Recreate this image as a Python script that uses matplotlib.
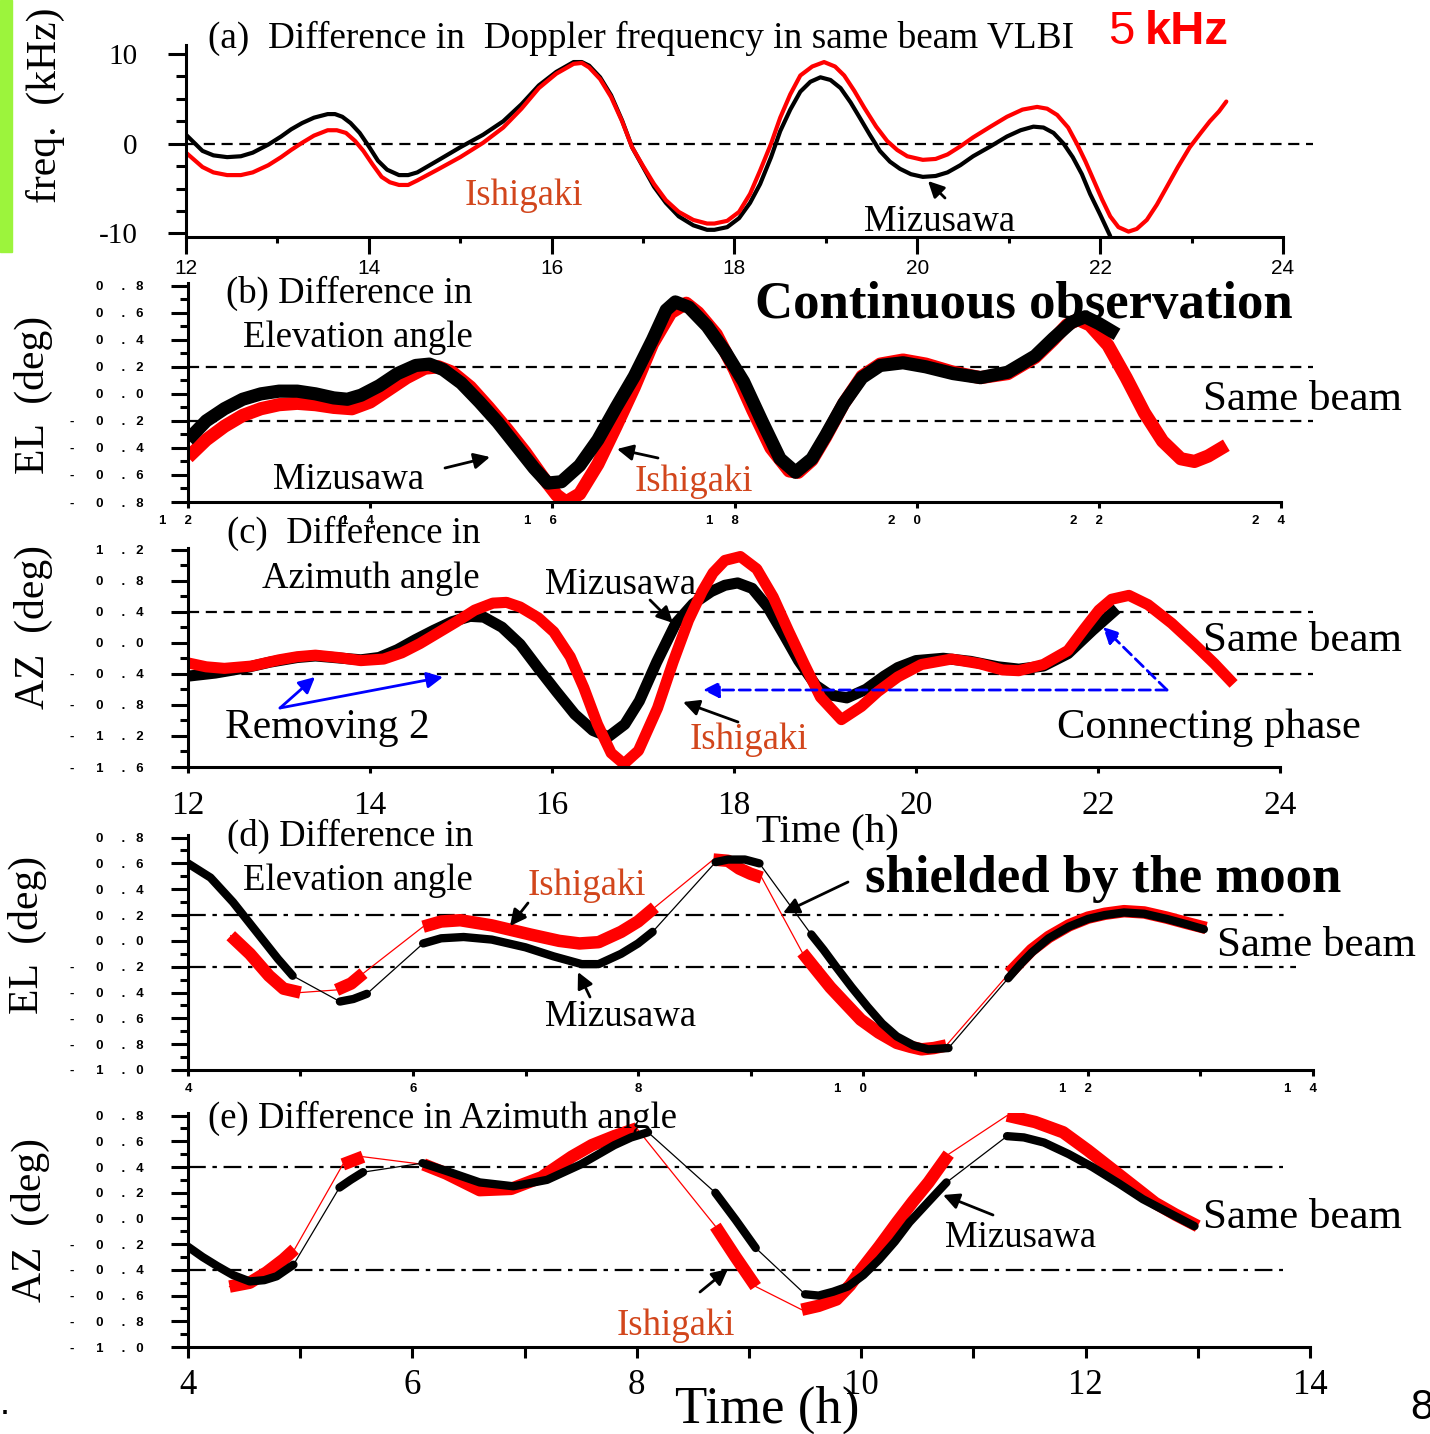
import matplotlib
matplotlib.use('Agg')
import matplotlib.pyplot as plt
import matplotlib.transforms as mtransforms
from matplotlib.ticker import MultipleLocator

# ---------------- data ----------------
# (a) Doppler frequency difference (kHz), 12-24 h
a_miz_t = [12.0, 12.18, 12.3, 12.45, 12.6, 12.73, 12.9, 13.04, 13.15, 13.27, 13.4, 13.55, 13.63, 13.71,
           13.8, 13.9, 14.0, 14.1, 14.2, 14.33, 14.43, 14.53, 14.75, 15.0, 15.25, 15.47, 15.67, 15.86,
           16.05, 16.24, 16.33, 16.41, 16.53, 16.65, 16.77, 16.88, 17.0, 17.12, 17.25, 17.39, 17.55,
           17.7, 17.78, 17.92, 18.05, 18.17, 18.28, 18.4, 18.5, 18.61, 18.72, 18.83, 18.94, 19.05,
           19.16, 19.27, 19.37, 19.48, 19.59, 19.7, 19.81, 19.93, 20.06, 20.2, 20.33, 20.47, 20.61,
           20.8, 20.98, 21.13, 21.27, 21.38, 21.49, 21.6, 21.7, 21.8, 21.89, 22.0, 22.11]
a_miz_f = [1.0, -0.8, -1.3, -1.5, -1.4, -1.0, -0.1, 0.8, 1.6, 2.3, 2.9, 3.3, 3.3, 3.0,
           2.3, 1.2, -0.3, -1.9, -2.9, -3.5, -3.5, -3.2, -1.9, -0.4, 1.0, 2.5, 4.4, 6.5,
           8.0, 9.1, 9.1, 8.7, 7.4, 5.4, 2.6, -0.4, -2.6, -4.8, -6.6, -8.1, -9.1,
           -9.6, -9.6, -9.3, -8.3, -6.6, -4.5, -1.5, 1.4, 3.8, 5.8, 6.9, 7.4, 7.1,
           6.2, 4.6, 2.9, 1.0, -0.8, -2.0, -2.8, -3.4, -3.7, -3.6, -3.2, -2.4, -1.4,
           -0.3, 0.8, 1.5, 1.9, 1.8, 1.2, 0.0, -1.5, -3.4, -5.6, -7.9, -10.3]
a_ishi_t = [12.0, 12.18, 12.3, 12.45, 12.6, 12.73, 12.9, 13.04, 13.15, 13.27, 13.4, 13.55, 13.65, 13.75,
            13.85, 13.94, 14.04, 14.14, 14.23, 14.33, 14.43, 14.53, 14.75, 15.0, 15.25, 15.47, 15.67,
            15.86, 16.05, 16.24, 16.33, 16.41, 16.53, 16.65, 16.77, 16.88, 17.0, 17.12, 17.25, 17.39,
            17.55, 17.7, 17.78, 17.92, 18.05, 18.17, 18.28, 18.4, 18.5, 18.61, 18.72, 18.85, 18.98,
            19.1, 19.2, 19.31, 19.42, 19.55, 19.67, 19.78, 19.89, 20.06, 20.2, 20.33, 20.47, 20.61,
            20.8, 20.98, 21.15, 21.31, 21.42, 21.53, 21.65, 21.75, 21.84, 21.93, 22.02, 22.11, 22.2,
            22.31, 22.4, 22.51, 22.62, 22.73, 22.85, 22.98, 23.1, 23.2, 23.3, 23.38]
a_ishi_f = [-1.0, -2.6, -3.2, -3.5, -3.5, -3.2, -2.4, -1.5, -0.7, 0.1, 0.9, 1.5, 1.5, 1.2,
            0.3, -0.8, -2.3, -3.7, -4.3, -4.6, -4.6, -4.1, -2.9, -1.5, 0.1, 1.8, 3.9,
            6.2, 7.8, 8.9, 9.0, 8.5, 7.2, 5.2, 2.5, -0.4, -2.5, -4.5, -6.3, -7.6,
            -8.5, -8.9, -8.9, -8.6, -7.6, -5.6, -3.0, 0.0, 2.9, 5.5, 7.6, 8.6, 9.1,
            8.6, 7.6, 5.9, 4.0, 1.9, 0.3, -0.7, -1.4, -1.8, -1.7, -1.2, -0.3, 0.7,
            1.9, 3.0, 3.8, 4.1, 3.9, 3.2, 1.8, -0.1, -2.0, -4.1, -6.2, -8.1, -9.3,
            -9.8, -9.5, -8.5, -6.8, -4.8, -2.6, -0.4, 1.2, 2.5, 3.6, 4.7]

# (b) elevation angle difference (deg), continuous observation
b_miz_t = [12.0, 12.2, 12.4, 12.6, 12.8, 13.0, 13.2, 13.4, 13.6, 13.75, 13.9, 14.1, 14.3, 14.5, 14.65,
           14.8, 15.0, 15.2, 15.4, 15.6, 15.8, 15.95, 16.1, 16.3, 16.5, 16.7, 16.9, 17.1, 17.25, 17.35,
           17.5, 17.7, 17.9, 18.1, 18.3, 18.5, 18.67, 18.85, 19.0, 19.2, 19.4, 19.6, 19.85, 20.1, 20.4,
           20.7, 21.0, 21.3, 21.5, 21.7, 21.85, 22.0, 22.2]
b_miz_el = [-0.34, -0.2, -0.11, -0.04, 0.0, 0.02, 0.02, 0.0, -0.03, -0.04, -0.01, 0.06, 0.15, 0.21, 0.22,
            0.18, 0.08, -0.06, -0.21, -0.38, -0.55, -0.66, -0.65, -0.53, -0.34, -0.1, 0.13, 0.4, 0.62, 0.68,
            0.64, 0.5, 0.31, 0.09, -0.2, -0.48, -0.58, -0.48, -0.31, -0.07, 0.12, 0.21, 0.23, 0.2, 0.15,
            0.12, 0.16, 0.28, 0.41, 0.53, 0.57, 0.52, 0.44]
b_ishi_t = [12.0, 12.2, 12.4, 12.6, 12.8, 13.0, 13.2, 13.4, 13.6, 13.8, 14.0, 14.2, 14.4, 14.6, 14.75,
            14.9, 15.1, 15.3, 15.5, 15.7, 15.9, 16.05, 16.15, 16.3, 16.5, 16.7, 16.9, 17.1, 17.3, 17.47,
            17.6, 17.8, 18.0, 18.2, 18.4, 18.6, 18.7, 18.85, 19.0, 19.2, 19.4, 19.6, 19.85, 20.1, 20.4,
            20.7, 21.0, 21.3, 21.5, 21.65, 21.77, 21.9, 22.1, 22.3, 22.5, 22.7, 22.9, 23.05, 23.2, 23.4]
b_ishi_el = [-0.47, -0.34, -0.24, -0.16, -0.11, -0.08, -0.07, -0.08, -0.1, -0.11, -0.06, 0.03, 0.12, 0.19, 0.2,
             0.16, 0.05, -0.1, -0.26, -0.43, -0.62, -0.75, -0.8, -0.74, -0.52, -0.24, 0.05, 0.37, 0.6, 0.67,
             0.6, 0.44, 0.18, -0.12, -0.4, -0.57, -0.58, -0.49, -0.32, -0.07, 0.13, 0.22, 0.25, 0.22, 0.16,
             0.12, 0.15, 0.27, 0.4, 0.51, 0.55, 0.51, 0.36, 0.12, -0.14, -0.35, -0.48, -0.5, -0.46, -0.38]

# (c) azimuth angle difference (deg), continuous observation
c_miz_t = [12.0, 12.3, 12.6, 12.9, 13.2, 13.4, 13.6, 13.9, 14.1, 14.3, 14.5, 14.7, 14.9, 15.1, 15.25,
           15.45, 15.65, 15.85, 16.05, 16.25, 16.45, 16.62, 16.8, 16.96, 17.15, 17.36, 17.55, 17.75, 17.9,
           18.04, 18.2, 18.37, 18.55, 18.71, 18.9, 19.05, 19.24, 19.45, 19.65, 19.8, 20.0, 20.3, 20.6,
           20.9, 21.13, 21.4, 21.67, 21.94, 22.21]
c_miz_az = [-0.43, -0.39, -0.33, -0.25, -0.19, -0.17, -0.19, -0.22, -0.19, -0.09, 0.04, 0.16, 0.27, 0.34, 0.33,
            0.2, -0.02, -0.33, -0.63, -0.92, -1.13, -1.21, -1.05, -0.75, -0.25, 0.25, 0.5, 0.66, 0.74,
            0.77, 0.7, 0.46, 0.1, -0.23, -0.55, -0.67, -0.71, -0.6, -0.43, -0.32, -0.23, -0.2, -0.24,
            -0.31, -0.34, -0.3, -0.14, 0.16, 0.44]
c_ishi_t = [12.0, 12.2, 12.4, 12.7, 13.0, 13.2, 13.4, 13.65, 13.9, 14.15, 14.35, 14.55, 14.75, 14.95, 15.15,
            15.35, 15.5, 15.65, 15.85, 16.02, 16.2, 16.35, 16.5, 16.65, 16.79, 16.95, 17.16, 17.33, 17.5,
            17.65, 17.77, 17.9, 18.07, 18.25, 18.43, 18.6, 18.77, 18.95, 19.18, 19.4, 19.58, 19.8, 20.06,
            20.39, 20.7, 20.95, 21.13, 21.4, 21.67, 21.85, 22.01, 22.15, 22.34, 22.55, 22.81, 23.05, 23.28,
            23.49]
c_ishi_az = [-0.26, -0.31, -0.33, -0.3, -0.22, -0.18, -0.16, -0.19, -0.23, -0.21, -0.13, -0.01, 0.13, 0.27, 0.42,
             0.51, 0.52, 0.46, 0.32, 0.14, -0.18, -0.58, -1.05, -1.42, -1.56, -1.39, -0.84, -0.25, 0.29,
             0.66, 0.9, 1.06, 1.11, 0.95, 0.59, 0.15, -0.27, -0.7, -0.99, -0.82, -0.63, -0.44, -0.28,
             -0.21, -0.27, -0.35, -0.36, -0.28, -0.1, 0.18, 0.42, 0.56, 0.61, 0.49, 0.25, -0.01, -0.27,
             -0.53]

# (d) elevation angle difference (deg), shielded by the moon: observed pieces, 4-14 h
d_miz_t = [[4.0, 4.2, 4.4, 4.6, 4.8, 4.93],
           [5.35, 5.47, 5.59],
           [6.09, 6.25, 6.45, 6.7, 7.0, 7.25, 7.5, 7.65, 7.85, 8.0, 8.13],
           [8.69, 8.8, 8.95, 9.08],
           [9.54, 9.65, 9.76, 9.9, 10.04, 10.17, 10.3, 10.45, 10.58, 10.76],
           [11.29, 11.4, 11.5, 11.65, 11.83, 12.0, 12.15, 12.32, 12.5, 12.7, 12.87, 13.03]]
d_miz_el = [[0.6, 0.49, 0.3, 0.08, -0.14, -0.27],
            [-0.47, -0.45, -0.41],
            [-0.02, 0.02, 0.03, 0.01, -0.05, -0.12, -0.18, -0.18, -0.1, -0.02, 0.07],
            [0.61, 0.63, 0.63, 0.6],
            [0.05, -0.07, -0.2, -0.36, -0.51, -0.64, -0.74, -0.81, -0.84, -0.83],
            [-0.29, -0.18, -0.09, 0.02, 0.11, 0.17, 0.2, 0.22, 0.21, 0.17, 0.13, 0.09]]
d_ishi_t = [[4.38, 4.55, 4.72, 4.85, 5.0],
            [5.32, 5.45, 5.56],
            [6.09, 6.25, 6.42, 6.7, 7.04, 7.3, 7.48, 7.65, 7.85, 8.0, 8.15],
            [8.67, 8.8, 8.9, 9.0, 9.1],
            [9.46, 9.58, 9.71, 9.85, 9.98, 10.14, 10.3, 10.42, 10.52, 10.63, 10.74],
            [11.3, 11.4, 11.5, 11.65, 11.83, 12.0, 12.15, 12.32, 12.5, 12.7, 12.87, 13.05]]
d_ishi_el = [[0.04, -0.1, -0.27, -0.37, -0.4],
             [-0.38, -0.33, -0.25],
             [0.11, 0.15, 0.16, 0.12, 0.05, 0.0, -0.02, -0.01, 0.07, 0.15, 0.26],
             [0.63, 0.62, 0.56, 0.52, 0.49],
             [-0.09, -0.22, -0.36, -0.49, -0.61, -0.71, -0.79, -0.82, -0.84, -0.83, -0.81],
             [-0.25, -0.16, -0.07, 0.03, 0.12, 0.18, 0.21, 0.23, 0.22, 0.18, 0.14, 0.1]]

# (e) azimuth angle difference (deg), shielded by the moon
e_miz_t = [[4.0, 4.13, 4.26, 4.4, 4.55, 4.68, 4.79, 4.94],
           [5.35, 5.45, 5.56],
           [6.09, 6.3, 6.6, 6.9, 7.2, 7.5, 7.8, 7.95, 8.1],
           [8.7, 8.88, 9.06],
           [9.5, 9.62, 9.75, 9.88, 10.02, 10.16, 10.3, 10.43, 10.6, 10.76],
           [11.3, 11.45, 11.63, 11.85, 12.06, 12.3, 12.51, 12.75, 12.97]]
e_miz_az = [[-0.22, -0.3, -0.37, -0.44, -0.49, -0.48, -0.45, -0.36],
            [0.24, 0.3, 0.36],
            [0.43, 0.37, 0.28, 0.25, 0.3, 0.42, 0.57, 0.63, 0.67],
            [0.2, -0.01, -0.23],
            [-0.59, -0.6, -0.57, -0.53, -0.44, -0.32, -0.18, -0.03, 0.13, 0.28],
            [0.64, 0.63, 0.59, 0.5, 0.4, 0.27, 0.15, 0.04, -0.06]]
e_ishi_t = [[4.37, 4.55, 4.7, 4.85, 4.95],
            [5.38, 5.47, 5.56],
            [6.1, 6.3, 6.6, 6.88, 7.15, 7.42, 7.6, 7.8, 8.0],
            [8.7, 8.88, 9.06],
            [9.47, 9.62, 9.78, 9.9, 10.0, 10.16, 10.32, 10.46, 10.6, 10.78],
            [11.3, 11.55, 11.8, 12.02, 12.24, 12.43, 12.62, 12.8, 13.0]]
e_ishi_az = [[-0.53, -0.5, -0.42, -0.32, -0.24],
             [0.42, 0.45, 0.48],
             [0.42, 0.35, 0.22, 0.23, 0.32, 0.48, 0.57, 0.64, 0.7],
             [-0.06, -0.3, -0.53],
             [-0.71, -0.68, -0.63, -0.52, -0.4, -0.22, -0.03, 0.13, 0.28, 0.5],
             [0.8, 0.75, 0.67, 0.53, 0.38, 0.25, 0.12, 0.03, -0.06]]

# tick values and labels
a_yticks = [-10, 0, 10]
a_yticklabels = ['-10', '0', '10']
el_ticks = [0.8, 0.6, 0.4, 0.2, 0.0, -0.2, -0.4, -0.6, -0.8]
el2_ticks = [0.8, 0.6, 0.4, 0.2, 0.0, -0.2, -0.4, -0.6, -0.8, -1.0]
az_ticks = [1.2, 0.8, 0.4, 0.0, -0.4, -0.8, -1.2, -1.6]
hours_day = [12, 14, 16, 18, 20, 22, 24]
hours_moon = [4, 6, 8, 10, 12, 14]

# ---------------- figure ----------------
W, H = 1430, 1434
fig = plt.figure(figsize=(W / 100, H / 100), dpi=100)
SERIF = 'Liberation Serif'
SANS = 'Liberation Sans'
RED = '#ff0000'
ISHI = '#d2461c'


def box(x0, x1, y0, y1):
    return [x0 / W, 1 - y1 / H, (x1 - x0) / W, (y1 - y0) / H]


def P(x, y):
    return (x / W, 1 - y / H)


def spaced(s, digit_gap=5):
    # the original tick labels have wide gaps between every character
    out = ''
    for i, ch in enumerate(s):
        out += ch
        if i < len(s) - 1:
            out += {'-': ' ' * 6, '.': ' ' * 3}.get(ch, ' ' * digit_gap)
    return out


def style(ax):
    for s in ['top', 'right']:
        ax.spines[s].set_visible(False)
    for s in ['left', 'bottom']:
        ax.spines[s].set_linewidth(2.2)
    ax.tick_params(which='both', width=2.2, direction='out', color='k')


def small_labels(ax, yticks, xticks, ylen=12):
    ax.set_yticks(yticks)
    ax.set_yticklabels([spaced(f'{v:.1f}') for v in yticks], fontfamily=SANS,
                       fontsize=9.5, fontweight='bold')
    ax.set_xticks(xticks)
    ax.set_xticklabels([spaced(str(v)) for v in xticks], fontfamily=SANS,
                       fontsize=9.5, fontweight='bold')
    ax.tick_params(axis='y', which='major', length=ylen, pad=20)
    ax.tick_params(axis='y', which='minor', length=6)
    ax.tick_params(axis='x', which='both', length=4, pad=5)
    off = mtransforms.ScaledTranslation(3 / 72, 0, fig.dpi_scale_trans)
    for lab in ax.get_xticklabels():
        lab.set_horizontalalignment('right')
        lab.set_transform(lab.get_transform() + off)


def band(ax, x, y, color, lw, cap='butt'):
    ax.plot(x, y, color=color, lw=lw, solid_capstyle=cap, solid_joinstyle='round')


# green marker bar at the left edge
fig.patches.append(plt.Rectangle(P(0, 252), 12 / W, 252 / H, transform=fig.transFigure,
                                 color='#9cf43c', zorder=0))

# ---- (a) ----
ax = fig.add_axes(box(186, 1283, 45, 237))
style(ax)
ax.set_xlim(12, 24)
ax.set_ylim(-10.4, 11)
ax.plot([12, 24.33], [0, 0], color='k', lw=1.6, ls=(0, (5, 3)), clip_on=False)
band(ax, a_miz_t, a_miz_f, 'k', 3, 'round')
band(ax, a_ishi_t, a_ishi_f, RED, 3, 'round')
ax.set_xticks(hours_day)
ax.set_xticklabels([str(v) for v in hours_day], fontfamily=SANS, fontsize=15)
ax.xaxis.set_minor_locator(MultipleLocator(1))
ax.set_yticks(a_yticks)
ax.set_yticklabels(a_yticklabels, fontfamily=SERIF, fontsize=21)
ax.yaxis.set_minor_locator(MultipleLocator(2.5))
ax.tick_params(axis='y', which='major', length=13, pad=22)
ax.tick_params(axis='y', which='minor', length=7)
ax.tick_params(axis='x', which='major', length=12, pad=4)
ax.tick_params(axis='x', which='minor', length=4)

# ---- (b) ----
ax = fig.add_axes(box(188, 1281, 283, 502))
style(ax)
ax.set_xlim(12, 24)
ax.set_ylim(-0.8, 0.82)
for yv in (0.2, -0.2):
    ax.plot([12, 24.35], [yv, yv], color='k', lw=1.6, ls=(0, (5, 3)), clip_on=False)
band(ax, b_ishi_t, b_ishi_el, RED, 9.5)
band(ax, b_miz_t, b_miz_el, 'k', 9.5)
small_labels(ax, el_ticks, hours_day)
ax.yaxis.set_minor_locator(MultipleLocator(0.1))

# ---- (c) ----
ax = fig.add_axes(box(188, 1280, 548, 767))
style(ax)
ax.set_xlim(12, 24)
ax.set_ylim(-1.6, 1.22)
for yv in (0.4, -0.4):
    ax.plot([12, 24.36], [yv, yv], color='k', lw=1.6, ls=(0, (5, 3)), clip_on=False)
band(ax, c_miz_t, c_miz_az, 'k', 8)
band(ax, c_ishi_t, c_ishi_az, RED, 8)
ax.set_yticks(az_ticks)
ax.set_yticklabels([spaced(f'{v:.1f}') for v in az_ticks], fontfamily=SANS,
                   fontsize=9.5, fontweight='bold')
ax.yaxis.set_minor_locator(MultipleLocator(0.2))
ax.set_xticks(hours_day)
ax.set_xticklabels([str(v) for v in hours_day], fontfamily=SERIF, fontsize=24)
ax.tick_params(axis='y', which='major', length=12, pad=20)
ax.tick_params(axis='y', which='minor', length=6)
ax.tick_params(axis='x', which='major', length=4, pad=13)

# ---- (d) ----
ax = fig.add_axes(box(188, 1313, 835, 1070))
style(ax)
ax.set_xlim(4, 14)
ax.set_ylim(-1.0, 0.82)
ax.plot([4, 13.75], [0.2, 0.2], color='k', lw=1.6, ls=(0, (8, 3, 2, 3)))
ax.plot([4, 13.85], [-0.2, -0.2], color='k', lw=1.6, ls=(0, (8, 3, 2, 3)))
ax.plot(sum(d_ishi_t, []), sum(d_ishi_el, []), color=RED, lw=0.9)
ax.plot(sum(d_miz_t, []), sum(d_miz_el, []), color='k', lw=0.9)
for xs, ys in zip(d_ishi_t, d_ishi_el):
    band(ax, xs, ys, RED, 9)
for xs, ys in zip(d_miz_t, d_miz_el):
    band(ax, xs, ys, 'k', 6, 'round')
small_labels(ax, el2_ticks, hours_moon)
ax.yaxis.set_minor_locator(MultipleLocator(0.1))
ax.xaxis.set_minor_locator(MultipleLocator(1))

# ---- (e) ----
ax = fig.add_axes(box(188, 1310, 1113, 1347))
style(ax)
ax.set_xlim(4, 14)
ax.set_ylim(-1.0, 0.82)
for yv in (0.4, -0.4):
    ax.plot([4, 13.76], [yv, yv], color='k', lw=1.6, ls=(0, (8, 3, 2, 3)))
ax.plot(sum(e_ishi_t, []), sum(e_ishi_az, []), color=RED, lw=0.9)
ax.plot(sum(e_miz_t, []), sum(e_miz_az, []), color='k', lw=0.9)
for xs, ys in zip(e_ishi_t, e_ishi_az):
    band(ax, xs, ys, RED, 9)
for xs, ys in zip(e_miz_t, e_miz_az):
    band(ax, xs, ys, 'k', 6, 'round')
ax.set_yticks(el2_ticks)
ax.set_yticklabels([spaced(f'{v:.1f}') for v in el2_ticks], fontfamily=SANS,
                   fontsize=9.5, fontweight='bold')
ax.yaxis.set_minor_locator(MultipleLocator(0.1))
ax.set_xticks(hours_moon)
ax.set_xticklabels([str(v) for v in hours_moon], fontfamily=SERIF, fontsize=25)
ax.xaxis.set_minor_locator(MultipleLocator(1))
ax.tick_params(axis='y', which='major', length=12, pad=20)
ax.tick_params(axis='y', which='minor', length=6)
ax.tick_params(axis='x', which='both', length=8, pad=8)

# ---------------- texts ----------------
def txt(x, y, s, size=26, ha='center', color='k', weight='normal', family=SERIF, rot=0):
    fig.text(*P(x, y), s, fontsize=size, ha=ha, va='center', color=color,
             fontweight=weight, fontfamily=family, rotation=rot)


def arrow(x0, y0, x1, y1, color='k', ls='-', lw=2):
    fig.add_artist(matplotlib.patches.FancyArrowPatch(
        P(x0, y0), P(x1, y1), transform=fig.transFigure, arrowstyle='-|>',
        mutation_scale=24, color=color, lw=lw, linestyle=ls, shrinkA=0, shrinkB=0))


# axis labels
txt(45, 105, 'freq.  (kHz)', 30, rot=90)
txt(33, 395, 'EL  (deg)', 30, rot=90)
txt(33, 627, 'AZ  (deg)', 30, rot=90)
txt(27, 935, 'EL  (deg)', 30, rot=90)
txt(30, 1220, 'AZ  (deg)', 30, rot=90)

# (a)
txt(208, 38, '(a)  Difference in  Doppler frequency in same beam VLBI', 26.8, ha='left')
txt(1108, 32, '5', 34, ha='left', color=RED, family=SANS)
txt(1145, 32, 'kHz', 34, ha='left', color=RED, family=SANS, weight='bold')
txt(524, 196, 'Ishigaki', 26.5, color=ISHI)
txt(940, 222, 'Mizusawa', 26.5)
arrow(945, 198, 928, 181)

# (b)
txt(472, 293, '(b) Difference in', 26.5, ha='right')
txt(473, 338, 'Elevation angle', 26.5, ha='right')
txt(1024, 305, 'Continuous observation', 38, weight='bold')
txt(1203, 400, 'Same beam', 31, ha='left')
txt(349, 480, 'Mizusawa', 26.5)
arrow(445, 468, 490, 457)
txt(694, 482, 'Ishigaki', 26.5, color=ISHI)
arrow(658, 458, 617, 449)

# (c)
txt(480, 533, '(c)  Difference in', 26.5, ha='right')
txt(480, 579, 'Azimuth angle', 26.5, ha='right')
txt(621, 585, 'Mizusawa', 26.5)
arrow(650, 600, 673, 623)
txt(749, 740, 'Ishigaki', 26.5, color=ISHI)
arrow(738, 722, 683, 702)
txt(1203, 641, 'Same beam', 31, ha='left')
txt(225, 728, 'Removing 2', 30, ha='left')
arrow(280, 708, 315, 677, color='#0000ff')
arrow(280, 708, 443, 677, color='#0000ff')
txt(1057, 728, 'Connecting phase', 30.7, ha='left')
arrow(1167, 690, 703, 690, color='#0000ff', ls=(0, (4, 2)))
arrow(1167, 690, 1103, 627, color='#0000ff', ls=(0, (4, 2)))
txt(827, 832, 'Time (h)', 29.5)

# (d)
txt(473, 836, '(d) Difference in', 26.5, ha='right')
txt(473, 881, 'Elevation angle', 26.5, ha='right')
txt(587, 886, 'Ishigaki', 26.5, color=ISHI)
arrow(528, 903, 510, 926)
txt(621, 1017, 'Mizusawa', 26.5)
arrow(590, 997, 578, 972)
txt(1103, 879, 'shielded by the moon', 38, weight='bold')
arrow(848, 882, 783, 913)
txt(1217, 946, 'Same beam', 31, ha='left')

# (e)
txt(208, 1118, '(e) Difference in Azimuth angle', 26.5, ha='left')
txt(1021, 1238, 'Mizusawa', 26.5)
arrow(993, 1215, 943, 1195)
txt(676, 1326, 'Ishigaki', 26.5, color=ISHI)
arrow(700, 1292, 728, 1269)
txt(1203, 1218, 'Same beam', 31, ha='left')
txt(767, 1410, 'Time (h)', 38)
txt(1410, 1408, '8', 30, ha='left', family=SANS)
txt(5, 1405, '.', 26, family=SANS)

fig.savefig('out.png', dpi=100)
